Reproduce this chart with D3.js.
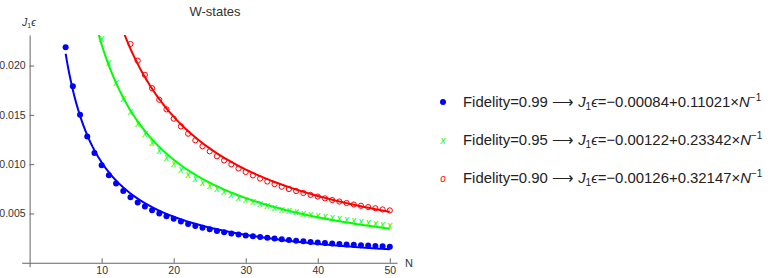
<!DOCTYPE html>
<html>
	<head>
		<title></title>
		<script src='https://cdn.jsdelivr.net/npm/d3@7/dist/d3.min.js'></script>
		<style>
			body { margin: 0; background: #fff; }
			text { font-family: 'Liberation Sans', Arial, sans-serif; }
		</style>
	</head>
	<body>
		<script>
			// N values and measured J1*eps for each fidelity
			var nBlue = d3.range(5, 51);
			var blue = [0.02185, 0.01790, 0.01501, 0.01281, 0.01113, 0.00988, 0.00887, 0.00803, 0.00727, 0.00664,
						0.00612, 0.00570, 0.00533, 0.00500, 0.00472, 0.00447, 0.00418, 0.00394, 0.00373, 0.00355,
						0.00339, 0.00323, 0.00309, 0.00297, 0.00287, 0.00277, 0.00269, 0.00262, 0.00254, 0.00246,
						0.00238, 0.00231, 0.00224, 0.00217, 0.00211, 0.00205, 0.00200, 0.00195, 0.00191, 0.00186,
						0.00182, 0.00178, 0.00174, 0.00170, 0.00167, 0.00163];
			var nGreen = d3.range(10, 51);
			var green = [0.02272, 0.02027, 0.01828, 0.01664, 0.01525, 0.01404, 0.01301, 0.01211, 0.01131, 0.01062,
						0.01000, 0.00945, 0.00895, 0.00851, 0.00812, 0.00776, 0.00743, 0.00713, 0.00685, 0.00659,
						0.00635, 0.00613, 0.00593, 0.00574, 0.00557, 0.00540, 0.00524, 0.00510, 0.00496, 0.00484,
						0.00472, 0.00460, 0.00449, 0.00439, 0.00429, 0.00419, 0.00409, 0.00401, 0.00392, 0.00384,
						0.00377];
			var nRed = d3.range(14, 51);
			var red = [0.02219, 0.02050, 0.01906, 0.01770, 0.01653, 0.01556, 0.01461, 0.01383, 0.01309, 0.01242,
						0.01181, 0.01130, 0.01080, 0.01038, 0.00998, 0.00956, 0.00921, 0.00886, 0.00854, 0.00824,
						0.00797, 0.00771, 0.00748, 0.00727, 0.00707, 0.00688, 0.00671, 0.00653, 0.00636, 0.00621,
						0.00606, 0.00591, 0.00578, 0.00565, 0.00553, 0.00541, 0.00531];

			// fit lines a + b/N from the legend
			var fidelity = ['0.99', '0.95', '0.90'];
			var fitA = [-0.00084, -0.00122, -0.00126];
			var fitB = [0.11021, 0.23342, 0.32147];
			var colors = ['#0000ff', '#00ff00', '#ff0000'];

			var xTicks = [10, 20, 30, 40, 50];
			var yTicks = [0.005, 0.010, 0.015, 0.020];

			var w = 775, h = 278;
			var svg = d3.select('body').append('svg')
						.attr('width', w)
						.attr('height', h);

			var x = d3.scaleLinear().domain([-1.1, 51]).range([21.7, 397]);
			var y = d3.scaleLinear().domain([-0.0004, 0.0231]).range([266.7, 35]);

			svg.append('clipPath').attr('id', 'clip')
				.append('rect')
				.attr('x', x(-1.1)).attr('y', y(0.0231))
				.attr('width', x(51) - x(-1.1)).attr('height', y(-0.0004) - y(0.0231));

			var axisColor = '#666';

			// x axis
			var gx = svg.append('g').attr('transform', 'translate(0,' + y(0) + ')');
			gx.call(d3.axisBottom(x).tickValues(d3.range(2, 51, 2).filter(function(d) { return d % 10; }))
					.tickSizeInner(-2.5).tickSizeOuter(0).tickFormat(''));
			gx.call(d3.axisBottom(x).tickValues(xTicks).tickSizeInner(-4.5).tickSizeOuter(0).tickPadding(4));

			// y axis
			var gy = svg.append('g').attr('transform', 'translate(' + x(0) + ',0)');
			gy.call(d3.axisLeft(y).tickValues(d3.range(1, 23).map(function(d) { return d / 1000; }).filter(function(d, i) { return (i + 1) % 5; }))
					.tickSizeInner(-2.5).tickSizeOuter(0).tickFormat(''));
			gy.call(d3.axisLeft(y).tickValues(yTicks).tickSizeInner(-4.5).tickSizeOuter(0).tickPadding(4)
					.tickFormat(d3.format('.3f')));

			svg.selectAll('.domain, .tick line').attr('stroke', axisColor);
			svg.selectAll('.tick text').attr('fill', '#333').style('font-size', '10.5px')
				.style('font-family', "'Liberation Sans', Arial, sans-serif");

			// axis labels and title
			svg.append('text').attr('x', 405).attr('y', y(0) + 4).attr('font-size', 11).attr('fill', '#333').text('N');
			var yl = svg.append('text').attr('x', 22).attr('y', 26).attr('font-size', 10.5).attr('fill', '#333');
			yl.append('tspan').attr('font-style', 'italic').text('J');
			yl.append('tspan').attr('font-size', 7).attr('dy', 2).text('1');
			yl.append('tspan').attr('font-style', 'italic').attr('dy', -2).text('ϵ');

			svg.append('text').attr('x', 215).attr('y', 16).attr('text-anchor', 'middle')
				.attr('font-size', 13).attr('fill', '#333').text('W-states');

			// fitted curves
			var plot = svg.append('g').attr('clip-path', 'url(#clip)');
			var starts = [5, 9, 13];
			fitA.forEach(function(a, i) {
				var ns = d3.range(starts[i], 50.01, 0.25);
				plot.append('path')
					.datum(ns)
					.attr('fill', 'none')
					.attr('stroke', colors[i])
					.attr('stroke-width', 2)
					.attr('d', d3.line()
						.x(function(n) { return x(n); })
						.y(function(n) { return y(a + fitB[i] / n); }));
			});

			// data markers
			plot.selectAll('.pb').data(blue).enter().append('circle')
				.attr('cx', function(d, i) { return x(nBlue[i]); })
				.attr('cy', function(d) { return y(d); })
				.attr('r', 3)
				.attr('fill', colors[0]);

			plot.selectAll('.pg').data(green).enter().append('text')
				.attr('x', function(d, i) { return x(nGreen[i]); })
				.attr('y', function(d) { return y(d) + 3; })
				.attr('text-anchor', 'middle')
				.attr('font-size', 10)
				.attr('font-style', 'italic')
				.attr('fill', colors[1])
				.text('x');

			plot.selectAll('.pr').data(red).enter().append('circle')
				.attr('cx', function(d, i) { return x(nRed[i]); })
				.attr('cy', function(d) { return y(d); })
				.attr('r', 2.6)
				.attr('fill', 'none')
				.attr('stroke', colors[2])
				.attr('stroke-width', 1);

			// legend
			var legY = [102, 140, 178];
			var marks = [null, 'x', 'o'];
			legY.forEach(function(ly, i) {
				var g = svg.append('g').attr('transform', 'translate(0,' + ly + ')');
				if (i == 0) {
					g.append('circle').attr('cx', 443).attr('cy', 0).attr('r', 3).attr('fill', colors[0]);
				} else {
					g.append('text').attr('x', 443).attr('y', 4).attr('text-anchor', 'middle')
						.attr('font-size', 10).attr('font-style', 'italic').attr('fill', colors[i]).text(marks[i]);
				}
				var t = g.append('text').attr('x', 463).attr('y', 5).attr('font-size', 14.9).attr('fill', '#222');
				t.append('tspan').text('Fidelity=' + fidelity[i] + ' ⟶ ');
				t.append('tspan').attr('font-style', 'italic').text('J');
				t.append('tspan').attr('font-size', 10).attr('dy', 3).text('1');
				t.append('tspan').attr('font-style', 'italic').attr('dy', -3).text('ϵ');
				t.append('tspan').text('=' + (fitA[i] < 0 ? '−' : '') + Math.abs(fitA[i]).toFixed(5) + '+' + fitB[i].toFixed(5) + '×');
				t.append('tspan').attr('font-style', 'italic').text('N');
				t.append('tspan').attr('font-size', 10).attr('dy', -6).text('−1');
			});
		</script>
	</body>
</html>
